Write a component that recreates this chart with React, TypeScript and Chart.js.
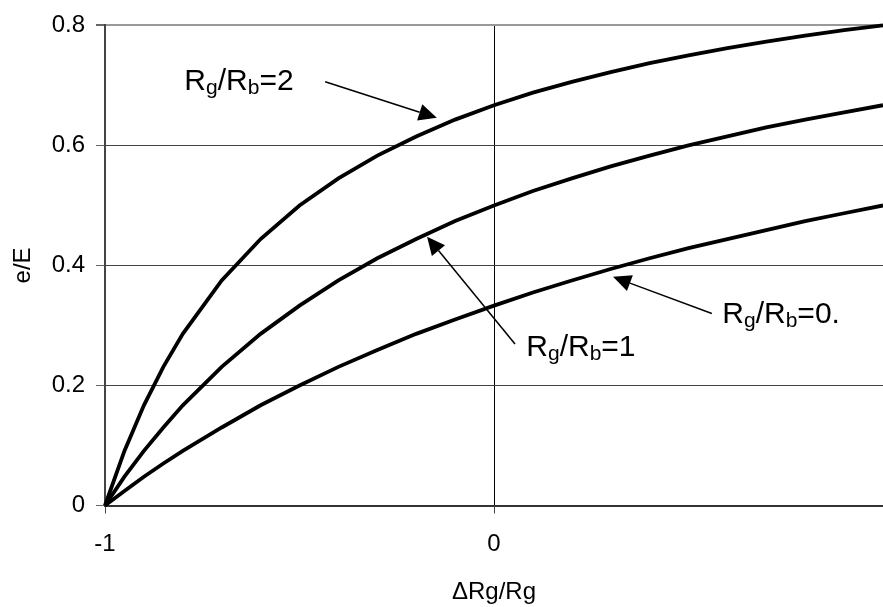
import { useEffect, useRef } from "react";
import { Chart, registerables, Plugin } from "chart.js";

Chart.register(...registerables);

const FONT = "'Liberation Sans', Arial, sans-serif";

// ΔRg/Rg sample points
const xValues = [
  -1, -0.95, -0.9, -0.85, -0.8, -0.7, -0.6, -0.5, -0.4, -0.3, -0.2, -0.1, 0,
  0.1, 0.2, 0.3, 0.4, 0.5, 0.6, 0.7, 0.8, 0.9, 1,
];
// e/E for Rg/Rb = 2
const ratio2 = [
  0, 0.091, 0.167, 0.231, 0.286, 0.375, 0.444, 0.5, 0.545, 0.583, 0.615,
  0.643, 0.667, 0.688, 0.706, 0.722, 0.737, 0.75, 0.762, 0.773, 0.783, 0.792,
  0.8,
];
// e/E for Rg/Rb = 1
const ratio1 = [
  0, 0.048, 0.091, 0.13, 0.167, 0.231, 0.286, 0.333, 0.375, 0.412, 0.444,
  0.474, 0.5, 0.524, 0.545, 0.565, 0.583, 0.6, 0.615, 0.63, 0.643, 0.655,
  0.667,
];
// e/E for Rg/Rb = 0.5
const ratioHalf = [
  0, 0.024, 0.048, 0.07, 0.091, 0.13, 0.167, 0.2, 0.231, 0.259, 0.286, 0.31,
  0.333, 0.355, 0.375, 0.394, 0.412, 0.429, 0.444, 0.459, 0.474, 0.487, 0.5,
];

const xTickValues = [-1, 0];
const xTickLabels = ["-1", "0"];
const yTickValues = [0, 0.2, 0.4, 0.6, 0.8];
const yTickLabels = ["0", "0.2", "0.4", "0.6", "0.8"];

type Note = {
  parts: [string, boolean][];
  at: [number, number];
  tail: [number, number];
  tip: [number, number];
};

const notes: Note[] = [
  {
    parts: [["R", false], ["g", true], ["/R", false], ["b", true], ["=2", false]],
    at: [-0.796, 0.692],
    tail: [-0.434, 0.706],
    tip: [-0.147, 0.646],
  },
  {
    parts: [["R", false], ["g", true], ["/R", false], ["b", true], ["=1", false]],
    at: [0.083, 0.249],
    tail: [0.054, 0.269],
    tip: [-0.172, 0.448],
  },
  {
    parts: [["R", false], ["g", true], ["/R", false], ["b", true], ["=0.", false]],
    at: [0.587, 0.304],
    tail: [0.56, 0.32],
    tip: [0.306, 0.381],
  },
];

const notePlugin: Plugin<"line"> = {
  id: "notes",
  afterDatasetsDraw(chart) {
    const { ctx } = chart;
    const xs = chart.scales.x;
    const ys = chart.scales.y;
    ctx.save();
    ctx.fillStyle = "#000";
    ctx.strokeStyle = "#000";
    for (const n of notes) {
      const x0 = xs.getPixelForValue(n.tail[0]);
      const y0 = ys.getPixelForValue(n.tail[1]);
      const x1 = xs.getPixelForValue(n.tip[0]);
      const y1 = ys.getPixelForValue(n.tip[1]);
      const a = Math.atan2(y1 - y0, x1 - x0);
      const cos = Math.cos(a);
      const sin = Math.sin(a);
      const headLen = 18;
      const half = 8.5;
      const bx = x1 - headLen * cos;
      const by = y1 - headLen * sin;
      ctx.lineWidth = 1.5;
      ctx.beginPath();
      ctx.moveTo(x0, y0);
      ctx.lineTo(bx, by);
      ctx.stroke();
      ctx.beginPath();
      ctx.moveTo(x1, y1);
      ctx.lineTo(bx + half * sin, by - half * cos);
      ctx.lineTo(bx - half * sin, by + half * cos);
      ctx.closePath();
      ctx.fill();

      let tx = xs.getPixelForValue(n.at[0]);
      const ty = ys.getPixelForValue(n.at[1]);
      ctx.textAlign = "left";
      ctx.textBaseline = "alphabetic";
      for (const [s, sub] of n.parts) {
        ctx.font = sub ? `21px ${FONT}` : `30px ${FONT}`;
        ctx.fillText(s, tx, sub ? ty + 4 : ty);
        tx += ctx.measureText(s).width;
      }
    }
    ctx.restore();
  },
};

function BridgeChart() {
  const canvasRef = useRef<HTMLCanvasElement | null>(null);

  useEffect(() => {
    if (!canvasRef.current) return;
    const line = (vals: number[]) => ({
      data: xValues.map((x, i) => ({ x, y: vals[i] })),
      borderColor: "#000",
      borderWidth: 3.8,
      pointRadius: 0,
      tension: 0,
      fill: false,
      clip: false as const,
    });
    const chart = new Chart(canvasRef.current, {
      type: "line",
      data: {
        datasets: [
          { label: "Rg/Rb=2", ...line(ratio2) },
          { label: "Rg/Rb=1", ...line(ratio1) },
          { label: "Rg/Rb=0.5", ...line(ratioHalf) },
        ],
      },
      options: {
        animation: false,
        responsive: true,
        maintainAspectRatio: false,
        layout: { padding: { top: 22, right: 0, left: 0, bottom: 0 } },
        plugins: {
          legend: { display: false },
          tooltip: { enabled: false },
        },
        scales: {
          x: {
            type: "linear",
            min: -1,
            max: 1,
            afterBuildTicks: (scale) => {
              scale.ticks = xTickValues.map((value) => ({ value }));
            },
            afterFit: (scale) => {
              scale.height = 101.5;
            },
            ticks: {
              padding: 16,
              color: "#000",
              font: { family: FONT, size: 24 },
              callback: (_v, i) => xTickLabels[i],
            },
            grid: {
              color: (c) => (c.tick && c.tick.value === 0 ? "#000" : "rgba(0,0,0,0)"),
              lineWidth: 1,
              tickLength: 8,
              tickColor: "#444",
            },
            border: { color: "#333", width: 2 },
            title: {
              display: true,
              text: "ΔRg/Rg",
              color: "#000",
              font: { family: FONT, size: 24 },
              padding: 0,
            },
          },
          y: {
            type: "linear",
            min: 0,
            max: 0.8,
            afterBuildTicks: (scale) => {
              scale.ticks = yTickValues.map((value) => ({ value }));
            },
            afterFit: (scale) => {
              scale.width = 105;
            },
            ticks: {
              padding: 11,
              color: "#000",
              font: { family: FONT, size: 24 },
              callback: (_v, i) => yTickLabels[i],
            },
            grid: {
              color: (c) => {
                const v = c.tick ? c.tick.value : -1;
                if (v === 0) return "rgba(0,0,0,0)";
                if (v === 0.8) return "#999";
                return "#444";
              },
              lineWidth: (c) => (c.tick && c.tick.value === 0.8 ? 2 : 1),
              tickLength: 9,
              tickColor: "#666",
            },
            border: { color: "#444", width: 2 },
            title: {
              display: true,
              text: "e/E",
              color: "#000",
              font: { family: FONT, size: 24 },
              padding: { top: 9, bottom: 0 },
            },
          },
        },
      },
      plugins: [notePlugin],
    });
    return () => {
      chart.destroy();
    };
  }, []);

  return (
    <div
      style={{
        position: "fixed",
        left: 0,
        top: 0,
        width: 883,
        height: 607,
        background: "#fff",
      }}
    >
      <canvas ref={canvasRef} />
    </div>
  );
}

export default function App() {
  return <BridgeChart />;
}
